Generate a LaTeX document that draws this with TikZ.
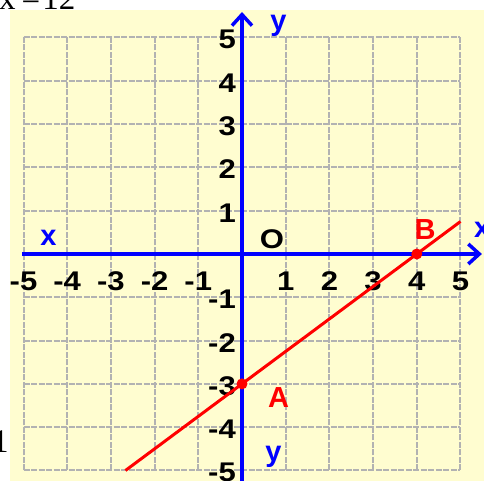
\documentclass[tikz,border=0pt]{standalone}
\usepackage{fontspec}
\setmainfont{Liberation Sans}
\newfontfamily\seriffont{Liberation Serif}
\usetikzlibrary{arrows.meta}
\definecolor{bgyellow}{RGB}{255,253,208}
\definecolor{gridgray}{RGB}{178,178,178}
\definecolor{axisblue}{RGB}{0,0,255}
\definecolor{linered}{RGB}{255,0,0}
\begin{document}
\begin{tikzpicture}[x=43.7pt,y=43.3pt,
  gridline/.style={draw=gridgray, line width=2pt, dash pattern=on 6pt off 1.5pt},
  axisline/.style={draw=axisblue, line width=3.5pt, -{Straight Barb[length=11pt,width=20pt]}},
  ticklbl/.style={font=\fontsize{27}{27}\selectfont\bfseries, inner sep=0pt, xscale=1.15},
  bluelbl/.style={font=\fontsize{29}{29}\selectfont\bfseries, text=axisblue, inner sep=0pt},
  redlbl/.style={font=\fontsize{29}{29}\selectfont\bfseries, text=linered, inner sep=0pt},
  cuttext/.style={font=\seriffont\fontsize{33}{33}\selectfont, inner sep=0pt},
  reddot/.style={fill=linered, draw=none}]
\useasboundingbox (-5.538,-5.242) rectangle (5.538,5.866);
% cut-off texts from the page around
\node[cuttext, anchor=base west] (toptext) at (-5.561,5.635) {x\hspace{6pt}=\hspace{2pt}12};
\node[cuttext, anchor=base west] (lefttext) at (-5.721,-4.596) {1};
% background
\fill[bgyellow] (-5.309,-5.3) rectangle (5.6,5.635);
% grid
\foreach \g in {-5,...,5}{
  \draw[gridline] (\g,-5) -- (\g,5);
  \draw[gridline] (-5,\g) -- (5,\g);
}
% axes
\draw[axisline] (-5.034,0) -- (5.49,0);
\draw[axisline] (0,-5.3) -- (0,5.589);
% tick labels
\foreach \k in {-5,-4,-3,-2,-1,1,2,3,4,5}{
  \node[ticklbl] (xt\k) at (\k,-0.624) {\k};
  \node[ticklbl, anchor=east] (yt\k) at (-0.137,\k-0.05) {\k};
}
% axis names
\node[bluelbl] (ytop) at (0.835,5.266) {y};
\node[bluelbl] (ybot) at (0.721,-4.688) {y};
\node[bluelbl] (xleft) at (-4.428,0.381) {x};
\node[bluelbl, anchor=west] (xright) at (5.309,0.554) {x};
\node[ticklbl] (O) at (0.686,0.335) {O};
% line
\coordinate (L1) at (-2.6667,-5);
\coordinate (A) at (0,-3);
\coordinate (B) at (4,0);
\coordinate (L2) at (5,0.75);
\draw[linered, line width=3pt] (L1) -- (A) -- (B) -- (L2);
\fill[reddot] (A) circle (5.5pt);
\fill[reddot] (B) circle (5.5pt);
\node[redlbl] (Alab) at (0.835,-3.314) {A};
\node[redlbl] (Blab) at (4.188,0.566) {B};
\end{tikzpicture}
\end{document}
